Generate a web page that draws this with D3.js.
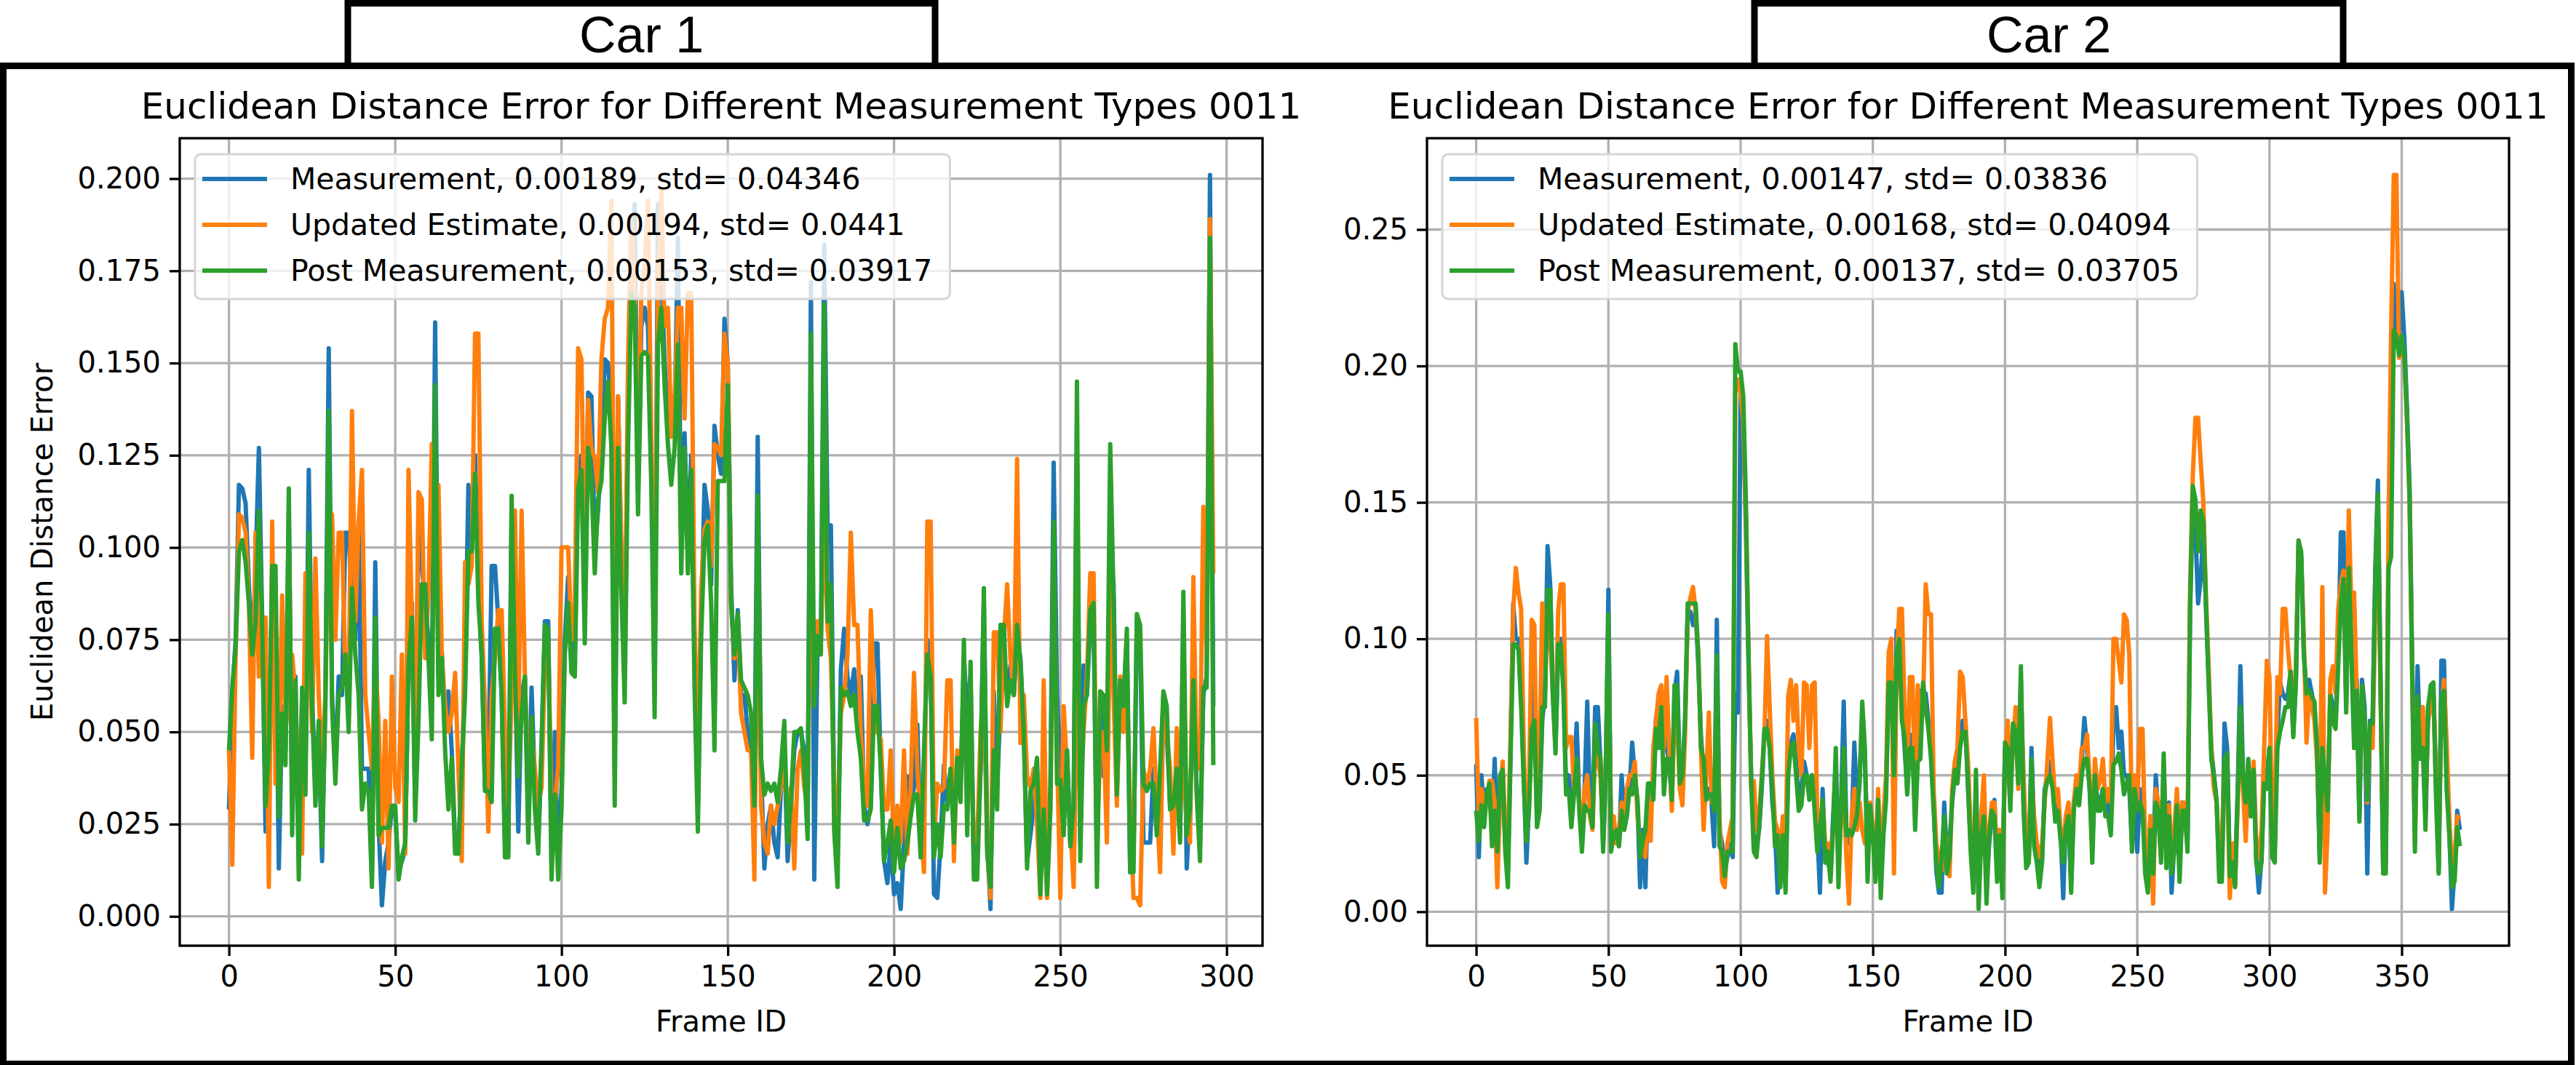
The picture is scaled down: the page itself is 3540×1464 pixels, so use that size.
<!DOCTYPE html>
<html>
<head>
<meta charset="utf-8">
<script src="https://cdn.jsdelivr.net/npm/d3@7"></script>
<style>
  body { margin: 0; background: #fff; }
  svg { display: block; }
  text { font-family: "DejaVu Sans", sans-serif; fill: #000; }
</style>
</head>
<body>
<svg id="chart" width="3540" height="1464"></svg>
<script>
// ---- data ----
const carNames = ['Car 1', 'Car 2'];
const chartTitle = 'Euclidean Distance Error for Different Measurement Types 0011';
const seriesNames = ['Measurement', 'Updated Estimate', 'Post Measurement'];
const car1Labels = ['Measurement, 0.00189, std= 0.04346',
                    'Updated Estimate, 0.00194, std= 0.0441',
                    'Post Measurement, 0.00153, std= 0.03917'];
const car2Labels = ['Measurement, 0.00147, std= 0.03836',
                    'Updated Estimate, 0.00168, std= 0.04094',
                    'Post Measurement, 0.00137, std= 0.03705'];

const car1XTicks = [0, 50, 100, 150, 200, 250, 300];
const car2XTicks = [0, 50, 100, 150, 200, 250, 300, 350];
const car1YTicks = [0, 0.025, 0.05, 0.075, 0.1, 0.125, 0.15, 0.175, 0.2];
const car2YTicks = [0, 0.05, 0.1, 0.15, 0.2, 0.25];

const car1Measurement = [
  .029,.060,.075,.117,.116,.112,.090,.070,.095,.127,
  .080,.023,.040,.090,.085,.013,.057,.045,.110,.030,
  .065,.015,.060,.040,.121,.060,.035,.048,.015,.060,
  .154,.060,.040,.065,.060,.104,.104,.085,.075,.107,
  .040,.040,.040,.010,.096,.025,.003,.015,.020,.030,
  .028,.012,.015,.018,.070,.085,.030,.109,.095,.085,
  .075,.060,.161,.065,.072,.050,.061,.045,.020,.018,
  .040,.065,.117,.100,.125,.090,.070,.035,.040,.095,
  .095,.080,.060,.020,.018,.110,.070,.023,.060,.065,
  .025,.062,.035,.020,.045,.080,.080,.015,.050,.012,
  .035,.075,.092,.070,.070,.121,.125,.089,.142,.141,
  .100,.110,.127,.151,.150,.135,.040,.141,.095,.065,
  .140,.175,.193,.115,.160,.165,.160,.125,.060,.193,
  .175,.150,.135,.141,.133,.184,.100,.131,.100,.125,
  .070,.030,.080,.117,.110,.090,.133,.125,.120,.162,
  .150,.090,.064,.083,.060,.060,.050,.045,.035,.130,
  .040,.013,.025,.030,.020,.016,.035,.045,.015,.030,
  .045,.050,.050,.045,.025,.172,.010,.075,.075,.182,
  .106,.106,.030,.015,.067,.078,.065,.060,.067,.055,
  .065,.030,.025,.030,.074,.074,.040,.015,.009,.020,
  .006,.009,.002,.020,.038,.030,.035,.052,.020,.040,
  .075,.070,.006,.005,.020,.041,.030,.040,.025,.043,
  .035,.070,.055,.065,.012,.015,.040,.085,.020,.002,
  .061,.035,.057,.070,.060,.068,.060,.075,.070,.050,
  .015,.022,.030,.040,.010,.035,.010,.035,.123,.060,
  .040,.030,.045,.020,.030,.125,.020,.068,.060,.080,
  .080,.015,.060,.038,.045,.100,.090,.035,.060,.060,
  .075,.012,.015,.080,.075,.020,.020,.020,.040,.030,
  .035,.060,.050,.030,.030,.035,.022,.080,.013,.030,
  .060,.035,.020,.060,.065,.201,.057
];
const car1Updated = [
  .045,.014,.070,.109,.108,.104,.085,.043,.104,.065,
  .081,.081,.008,.107,.036,.040,.087,.050,.060,.071,
  .060,.030,.017,.093,.080,.050,.097,.060,.040,.060,
  .110,.109,.075,.104,.104,.065,.060,.137,.080,.107,
  .121,.060,.050,.040,.070,.053,.020,.053,.013,.065,
  .035,.031,.071,.017,.121,.080,.040,.115,.113,.070,
  .088,.128,.110,.117,.071,.057,.050,.055,.066,.040,
  .015,.096,.090,.095,.158,.158,.080,.057,.023,.060,
  .070,.083,.083,.050,.030,.060,.110,.050,.110,.065,
  .035,.050,.040,.030,.035,.070,.075,.029,.030,.041,
  .100,.100,.100,.075,.085,.154,.151,.090,.140,.127,
  .124,.115,.151,.162,.165,.194,.060,.141,.100,.070,
  .150,.190,.170,.120,.169,.176,.194,.130,.070,.170,
  .197,.160,.165,.130,.140,.165,.165,.135,.169,.169,
  .080,.040,.089,.105,.107,.095,.128,.127,.125,.158,
  .150,.085,.070,.080,.055,.050,.045,.045,.010,.100,
  .030,.020,.017,.030,.025,.030,.035,.045,.025,.035,
  .013,.040,.045,.035,.030,.100,.060,.080,.075,.110,
  .078,.070,.037,.020,.055,.060,.071,.104,.079,.079,
  .050,.035,.030,.083,.060,.050,.048,.029,.029,.045,
  .015,.030,.020,.045,.017,.035,.066,.040,.025,.012,
  .107,.107,.020,.036,.034,.035,.064,.064,.015,.045,
  .040,.060,.030,.050,.020,.020,.050,.060,.019,.005,
  .077,.077,.050,.075,.090,.070,.060,.124,.047,.060,
  .038,.035,.040,.025,.005,.064,.005,.030,.090,.045,
  .005,.057,.040,.025,.008,.060,.030,.050,.065,.093,
  .093,.020,.045,.050,.020,.090,.060,.030,.065,.050,
  .060,.030,.005,.005,.003,.040,.035,.040,.051,.030,
  .012,.055,.050,.040,.017,.051,.030,.040,.025,.020,
  .092,.040,.040,.111,.070,.189,.093
];
const car1Post = [
  .045,.062,.073,.099,.102,.096,.085,.071,.080,.110,
  .078,.030,.045,.095,.095,.027,.055,.041,.116,.022,
  .064,.010,.062,.033,.104,.057,.030,.053,.019,.057,
  .137,.057,.036,.060,.062,.071,.050,.089,.071,.060,
  .029,.036,.034,.008,.081,.022,.024,.024,.024,.030,
  .030,.010,.016,.020,.068,.081,.026,.053,.090,.090,
  .070,.048,.144,.060,.070,.045,.029,.043,.017,.017,
  .040,.060,.099,.099,.120,.085,.071,.034,.034,.031,
  .078,.078,.060,.016,.016,.114,.065,.038,.055,.065,
  .020,.054,.029,.017,.047,.079,.078,.010,.033,.010,
  .029,.071,.085,.066,.065,.116,.121,.074,.127,.118,
  .093,.113,.118,.135,.145,.127,.030,.127,.088,.058,
  .127,.169,.165,.109,.152,.153,.152,.117,.054,.155,
  .165,.144,.128,.117,.127,.155,.093,.127,.093,.121,
  .062,.023,.076,.102,.106,.085,.045,.118,.118,.118,
  .144,.085,.071,.082,.064,.062,.060,.055,.030,.114,
  .043,.033,.036,.034,.036,.031,.040,.053,.020,.031,
  .050,.050,.051,.040,.021,.158,.057,.076,.071,.166,
  .080,.090,.023,.008,.062,.060,.061,.057,.060,.050,
  .043,.026,.026,.029,.057,.057,.040,.015,.020,.026,
  .012,.024,.013,.015,.020,.027,.033,.033,.016,.045,
  .071,.065,.016,.025,.016,.030,.029,.040,.020,.043,
  .031,.075,.022,.069,.010,.010,.040,.089,.017,.008,
  .045,.029,.079,.079,.057,.064,.060,.079,.069,.050,
  .013,.034,.036,.043,.006,.029,.006,.029,.107,.036,
  .037,.022,.045,.019,.030,.145,.015,.057,.060,.083,
  .085,.008,.061,.060,.045,.128,.086,.033,.064,.057,
  .078,.012,.012,.082,.079,.036,.034,.036,.036,.022,
  .040,.061,.057,.029,.030,.040,.020,.088,.022,.029,
  .064,.033,.015,.062,.062,.184,.041
];

const car2Measurement = [
  .054,.020,.050,.035,.045,.045,.030,.056,.025,.045,
  .050,.025,.015,.060,.113,.100,.100,.080,.050,.018,
  .040,.070,.086,.035,.040,.070,.080,.134,.120,.080,
  .060,.095,.100,.085,.045,.050,.035,.050,.069,.040,
  .025,.045,.077,.040,.035,.075,.075,.055,.025,.050,
  .118,.025,.030,.030,.024,.050,.035,.040,.045,.062,
  .050,.040,.009,.030,.009,.045,.045,.045,.071,.065,
  .070,.075,.060,.055,.040,.080,.088,.050,.045,.070,
  .110,.110,.105,.110,.090,.065,.050,.045,.045,.040,
  .024,.107,.030,.025,.015,.020,.025,.020,.080,.073,
  .190,.180,.140,.090,.050,.025,.025,.030,.045,.065,
  .070,.060,.040,.030,.007,.015,.030,.010,.055,.062,
  .065,.055,.040,.045,.055,.050,.045,.050,.040,.030,
  .007,.045,.020,.018,.015,.035,.055,.015,.040,.077,
  .030,.025,.030,.062,.040,.050,.070,.055,.026,.035,
  .030,.015,.040,.010,.030,.045,.085,.090,.045,.103,
  .095,.075,.060,.045,.065,.060,.035,.070,.081,.080,
  .080,.070,.060,.040,.015,.007,.007,.040,.020,.025,
  .040,.050,.050,.065,.070,.070,.045,.025,.010,.045,
  .005,.030,.040,.010,.025,.035,.041,.015,.025,.010,
  .060,.065,.040,.065,.070,.050,.085,.040,.020,.020,
  .060,.030,.020,.015,.020,.045,.050,.055,.050,.035,
  .040,.030,.005,.035,.033,.010,.040,.047,.040,.055,
  .071,.060,.045,.025,.050,.040,.040,.045,.035,.040,
  .030,.070,.075,.060,.066,.050,.050,.045,.025,.040,
  .022,.045,.040,.020,.015,.035,.020,.050,.035,.020,
  .055,.020,.040,.007,.025,.040,.015,.040,.035,.025,
  .110,.150,.140,.113,.122,.140,.110,.085,.060,.050,
  .040,.015,.015,.069,.060,.015,.020,.015,.045,.090,
  .050,.040,.055,.035,.050,.020,.007,.020,.050,.050,
  .060,.025,.025,.065,.084,.080,.078,.080,.088,.065,
  .085,.135,.130,.095,.080,.085,.080,.075,.060,.020,
  .065,.045,.040,.080,.075,.070,.095,.139,.139,.075,
  .130,.095,.065,.085,.035,.085,.075,.014,.070,.070,
  .125,.158,.085,.015,.018,.130,.180,.230,.215,.211,
  .227,.210,.185,.155,.090,.030,.090,.060,.065,.035,
  .075,.080,.080,.045,.015,.092,.092,.050,.030,.001,
  .015,.037,.030
];
const car2Updated = [
  .071,.035,.045,.040,.040,.048,.048,.040,.009,.040,
  .055,.030,.020,.065,.110,.126,.117,.111,.060,.026,
  .045,.107,.105,.040,.060,.113,.090,.110,.100,.080,
  .065,.110,.120,.120,.060,.064,.064,.045,.055,.040,
  .028,.045,.050,.035,.030,.060,.055,.050,.030,.055,
  .100,.030,.035,.025,.030,.040,.030,.045,.050,.050,
  .055,.035,.025,.025,.020,.040,.026,.060,.070,.080,
  .083,.060,.086,.060,.037,.075,.070,.045,.039,.065,
  .110,.115,.119,.110,.095,.060,.030,.050,.073,.040,
  .040,.080,.035,.011,.009,.025,.030,.035,.190,.195,
  .190,.180,.145,.095,.045,.048,.030,.035,.050,.064,
  .101,.075,.050,.033,.030,.020,.035,.020,.079,.085,
  .070,.083,.060,.050,.084,.083,.060,.083,.084,.035,
  .030,.040,.025,.025,.020,.030,.045,.020,.035,.045,
  .020,.003,.035,.045,.030,.040,.030,.025,.030,.040,
  .030,.020,.045,.015,.035,.050,.095,.100,.014,.090,
  .111,.111,.075,.050,.086,.086,.040,.083,.065,.075,
  .120,.109,.109,.045,.025,.020,.015,.030,.025,.013,
  .045,.055,.060,.088,.086,.070,.055,.030,.015,.040,
  .010,.035,.050,.015,.030,.040,.040,.020,.030,.010,
  .055,.070,.045,.060,.075,.045,.080,.050,.025,.020,
  .050,.035,.025,.020,.025,.040,.055,.071,.055,.040,
  .045,.030,.020,.035,.040,.015,.040,.050,.045,.060,
  .060,.065,.048,.030,.056,.045,.048,.056,.040,.045,
  .040,.100,.100,.092,.084,.109,.107,.094,.030,.050,
  .040,.067,.067,.025,.015,.035,.003,.045,.040,.025,
  .050,.025,.039,.020,.030,.045,.020,.040,.040,.030,
  .120,.160,.181,.181,.165,.150,.115,.090,.060,.045,
  .040,.020,.025,.055,.050,.005,.025,.010,.040,.070,
  .045,.026,.050,.040,.055,.025,.020,.030,.060,.092,
  .086,.030,.035,.086,.080,.111,.111,.096,.085,.075,
  .090,.136,.130,.100,.062,.080,.075,.070,.055,.030,
  .119,.007,.030,.085,.090,.080,.111,.120,.125,.080,
  .147,.110,.117,.080,.040,.080,.070,.040,.065,.060,
  .110,.145,.080,.020,.020,.140,.213,.270,.270,.203,
  .205,.203,.180,.150,.085,.025,.075,.060,.075,.040,
  .070,.075,.080,.050,.020,.075,.085,.062,.035,.015,
  .020,.035,.034
];
const car2Post = [
  .037,.026,.039,.031,.043,.047,.024,.037,.022,.050,
  .052,.022,.009,.056,.098,.098,.096,.075,.047,.026,
  .037,.067,.070,.031,.037,.075,.075,.118,.118,.079,
  .058,.098,.098,.080,.043,.045,.031,.043,.056,.037,
  .022,.039,.037,.037,.031,.069,.060,.056,.022,.050,
  .109,.022,.028,.030,.024,.037,.030,.035,.045,.043,
  .050,.041,.020,.026,.030,.047,.047,.041,.067,.060,
  .075,.043,.056,.056,.041,.083,.083,.047,.050,.071,
  .113,.113,.113,.113,.094,.060,.056,.041,.043,.043,
  .037,.094,.024,.022,.013,.022,.022,.022,.208,.198,
  .198,.189,.151,.094,.047,.022,.020,.031,.048,.067,
  .067,.060,.045,.024,.028,.009,.028,.007,.050,.060,
  .062,.050,.037,.039,.050,.050,.041,.050,.037,.022,
  .030,.041,.018,.022,.011,.031,.060,.009,.037,.060,
  .028,.030,.028,.031,.035,.047,.077,.060,.011,.039,
  .028,.011,.041,.005,.028,.041,.084,.084,.050,.094,
  .100,.070,.064,.043,.060,.060,.030,.055,.056,.084,
  .075,.067,.056,.037,.018,.009,.020,.035,.014,.020,
  .041,.052,.047,.060,.066,.066,.047,.022,.007,.052,
  .001,.028,.035,.003,.028,.037,.035,.011,.028,.005,
  .062,.060,.037,.069,.066,.047,.090,.037,.016,.018,
  .056,.024,.018,.009,.018,.043,.048,.050,.045,.033,
  .037,.026,.018,.031,.035,.007,.037,.045,.039,.050,
  .056,.056,.045,.018,.050,.037,.037,.045,.035,.035,
  .028,.054,.055,.058,.052,.043,.047,.050,.022,.045,
  .037,.040,.037,.014,.007,.030,.014,.040,.037,.018,
  .058,.016,.035,.014,.022,.039,.011,.037,.037,.022,
  .113,.156,.151,.132,.147,.143,.113,.084,.056,.050,
  .041,.011,.011,.056,.058,.013,.018,.009,.043,.075,
  .048,.040,.056,.035,.052,.018,.014,.018,.047,.045,
  .060,.020,.018,.060,.066,.070,.075,.075,.088,.064,
  .084,.136,.132,.094,.080,.081,.079,.077,.060,.018,
  .060,.048,.037,.079,.070,.067,.090,.113,.122,.073,
  .126,.094,.060,.081,.033,.083,.071,.041,.069,.069,
  .122,.153,.084,.014,.014,.126,.130,.213,.211,.204,
  .211,.204,.181,.151,.084,.022,.079,.056,.060,.030,
  .075,.083,.084,.041,.014,.079,.081,.045,.028,.009,
  .011,.031,.024
];

// ---- layout ----
const colors = ['#1f77b4', '#ff7f0e', '#2ca02c'];
const svg = d3.select('#chart');

const panels = [
  { car: carNames[0], series: [car1Measurement, car1Updated, car1Post], labels: car1Labels,
    xTicks: car1XTicks, yTicks: car1YTicks, yFmt: d3.format('.3f'),
    left: 247, right: 1735, top: 190, bottom: 1300, ylabel: 'Euclidean Distance Error',
    box: [478, 1285] },
  { car: carNames[1], series: [car2Measurement, car2Updated, car2Post], labels: car2Labels,
    xTicks: car2XTicks, yTicks: car2YTicks, yFmt: d3.format('.2f'),
    left: 1961, right: 3448, top: 190, bottom: 1300, ylabel: null,
    box: [2411, 3220] }
];

// outer frame
svg.append('rect')
    .attr('x', 4.5).attr('y', 90.5)
    .attr('width', 3529).attr('height', 1372)
    .attr('fill', 'none').attr('stroke', '#000').attr('stroke-width', 9);

panels.forEach((p, pi) => {
  // car label boxes
  svg.append('rect')
      .attr('x', p.box[0]).attr('y', 4.5)
      .attr('width', p.box[1] - p.box[0]).attr('height', 86)
      .attr('fill', '#fff').attr('stroke', '#000').attr('stroke-width', 9);
  svg.append('text')
      .attr('x', (p.box[0] + p.box[1]) / 2).attr('y', 72)
      .attr('text-anchor', 'middle')
      .style('font-family', '"Liberation Sans", Arial, sans-serif')
      .style('font-size', '70px')
      .text(p.car);

  const n = p.series[0].length;
  const xPad = 0.05 * (n - 1);
  const x = d3.scaleLinear().domain([-xPad, n - 1 + xPad]).range([p.left, p.right]);
  const all = p.series.flat();
  const [ymin, ymax] = d3.extent(all);
  const yPad = 0.05 * (ymax - ymin);
  const y = d3.scaleLinear().domain([ymin - yPad, ymax + yPad]).range([p.bottom, p.top]);

  const g = svg.append('g');

  // grid
  g.selectAll('.gx').data(p.xTicks).join('line')
      .attr('x1', d => x(d)).attr('x2', d => x(d))
      .attr('y1', p.top).attr('y2', p.bottom)
      .attr('stroke', '#b0b0b0').attr('stroke-width', 3.3);
  g.selectAll('.gy').data(p.yTicks).join('line')
      .attr('x1', p.left).attr('x2', p.right)
      .attr('y1', d => y(d)).attr('y2', d => y(d))
      .attr('stroke', '#b0b0b0').attr('stroke-width', 3.3);

  // lines
  const clipId = 'clip' + pi;
  svg.append('clipPath').attr('id', clipId)
    .append('rect').attr('x', p.left).attr('y', p.top)
      .attr('width', p.right - p.left).attr('height', p.bottom - p.top);
  const line = d3.line().x((d, i) => x(i)).y(d => y(d));
  g.append('g').attr('clip-path', `url(#${clipId})`)
    .selectAll('path').data(p.series).join('path')
      .attr('d', line)
      .attr('fill', 'none')
      .attr('stroke', (d, i) => colors[i])
      .attr('stroke-width', 6)
      .attr('stroke-linejoin', 'round');

  // spines
  g.append('rect')
      .attr('x', p.left).attr('y', p.top)
      .attr('width', p.right - p.left).attr('height', p.bottom - p.top)
      .attr('fill', 'none').attr('stroke', '#000').attr('stroke-width', 3.3);

  // x axis
  const xAxis = g.append('g').attr('transform', `translate(0,${p.bottom})`)
      .call(d3.axisBottom(x).tickValues(p.xTicks).tickSize(14).tickPadding(14).tickFormat(d3.format('d')));
  xAxis.select('.domain').remove();
  xAxis.selectAll('line').attr('stroke-width', 3.3);
  xAxis.selectAll('text').style('font-size', '40px').attr('font-family', null);

  // y axis
  const yAxis = g.append('g').attr('transform', `translate(${p.left},0)`)
      .call(d3.axisLeft(y).tickValues(p.yTicks).tickSize(14).tickPadding(12).tickFormat(p.yFmt));
  yAxis.select('.domain').remove();
  yAxis.selectAll('line').attr('stroke-width', 3.3);
  yAxis.selectAll('text').style('font-size', '40px').attr('font-family', null);

  // title and labels
  g.append('text')
      .attr('x', (p.left + p.right) / 2).attr('y', 163)
      .attr('text-anchor', 'middle').style('font-size', '50px')
      .text(chartTitle);
  g.append('text')
      .attr('x', (p.left + p.right) / 2).attr('y', 1418)
      .attr('text-anchor', 'middle').style('font-size', '40px')
      .text('Frame ID');
  if (p.ylabel) {
    g.append('text')
        .attr('transform', `translate(72,${(p.top + p.bottom) / 2}) rotate(-90)`)
        .attr('text-anchor', 'middle').style('font-size', '40px')
        .text(p.ylabel);
  }

  // legend
  const lx = p.left + 21, ly = p.top + 22;
  const leg = g.append('g').attr('transform', `translate(${lx},${ly})`);
  const frame = leg.append('rect')
      .attr('rx', 8).attr('ry', 8)
      .attr('height', 199)
      .attr('fill', 'rgba(255,255,255,0.8)')
      .attr('stroke', '#d6d6d6').attr('stroke-width', 3);
  const rows = leg.selectAll('.row').data(p.labels).join('g')
      .attr('transform', (d, i) => `translate(0,${34 + i * 63})`);
  rows.append('line')
      .attr('x1', 10).attr('x2', 99)
      .attr('stroke', (d, i) => colors[i]).attr('stroke-width', 6);
  const texts = rows.append('text')
      .attr('x', 131).attr('y', 14)
      .style('font-size', '41px')
      .text(d => d);
  let maxW = 0;
  texts.each(function() { maxW = Math.max(maxW, this.getComputedTextLength()); });
  frame.attr('width', 131 + maxW + 24);
});
</script>
</body>
</html>
